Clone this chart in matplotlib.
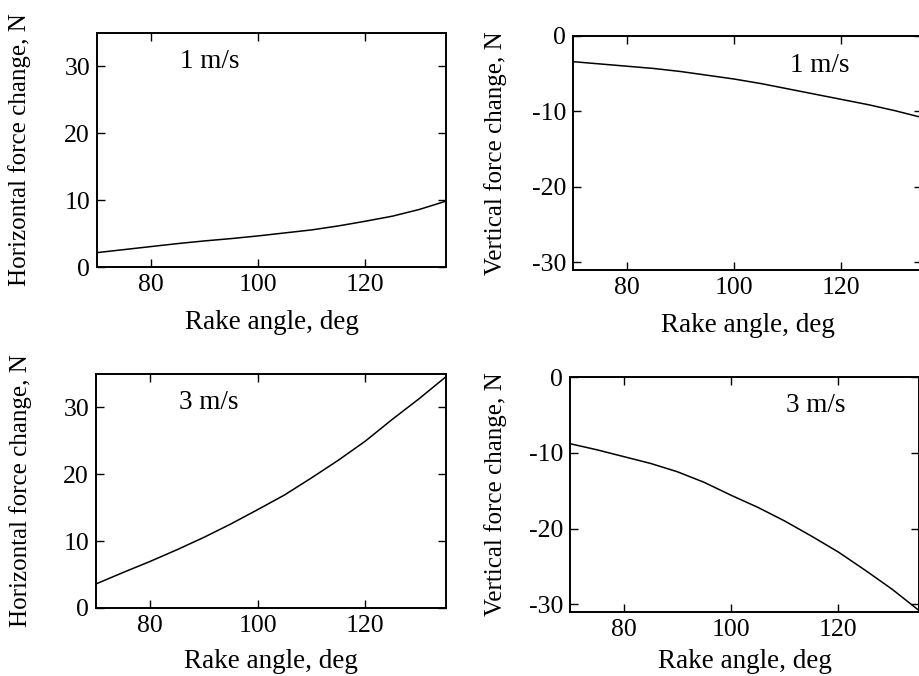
import matplotlib
matplotlib.use("Agg")
import matplotlib.pyplot as plt

plt.rcParams["font.family"] = ["Liberation Serif", "DejaVu Serif"]

# rake angle samples (deg)
rake = [70, 75, 80, 85, 90, 95, 100, 105, 110, 115, 120, 125, 130, 135]

# force change curves (N)
horiz_1ms = [2.15, 2.6, 3.05, 3.5, 3.9, 4.25, 4.65, 5.1, 5.55, 6.15, 6.85, 7.6, 8.6, 9.85]
vert_1ms = [-3.4, -3.7, -4.0, -4.3, -4.7, -5.2, -5.7, -6.3, -7.0, -7.7, -8.4, -9.1, -9.9, -10.8]
horiz_3ms = [3.6, 5.3, 6.95, 8.7, 10.55, 12.55, 14.7, 16.9, 19.45, 22.1, 24.95, 28.2, 31.3, 34.6]
vert_3ms = [-8.8, -9.6, -10.5, -11.4, -12.5, -13.9, -15.6, -17.2, -19.0, -21.0, -23.1, -25.5, -28.0, -30.8]

x_ticks = [80, 100, 120]
h_ticks = [0, 10, 20, 30]
v_ticks = [0, -10, -20, -30]

TICK_FS = 18.5
LAB_FS = 19.5
YLAB_FS = 18

fig = plt.figure(figsize=(9.19, 6.76), dpi=100)

# (left, bottom, width, height) in figure fraction, pixel-matched to the scan
panels = [
    dict(rect=[97 / 919, 1 - 267 / 676, 349 / 919, 234 / 676], y=horiz_1ms,
         ylim=(0, 35), yt=h_ticks, ylab="Horizontal force change, N",
         txt="1 m/s", tx=91, ty=30.7, lx=-0.189, xpad=10),
    dict(rect=[573 / 919, 1 - 270 / 676, 349 / 919, 234 / 676], y=vert_1ms,
         ylim=(-31, 0), yt=v_ticks, ylab="Vertical force change, N",
         txt="1 m/s", tx=116, ty=-3.9, lx=-0.189, xpad=10),
    dict(rect=[96 / 919, 1 - 608 / 676, 350 / 919, 234 / 676], y=horiz_3ms,
         ylim=(0, 35), yt=h_ticks, ylab="Horizontal force change, N",
         txt="3 m/s", tx=90.9, ty=30.7, lx=-0.183, xpad=9),
    dict(rect=[570 / 919, 1 - 612 / 676, 349 / 919, 235 / 676], y=vert_3ms,
         ylim=(-31, 0), yt=v_ticks, ylab="Vertical force change, N",
         txt="3 m/s", tx=115.8, ty=-3.7, lx=-0.18, xpad=6),
]

for p in panels:
    ax = fig.add_axes(p["rect"])
    ax.plot(rake, p["y"], color="black", lw=1.1)
    ax.set_xlim(70, 135)
    ax.set_ylim(*p["ylim"])
    ax.set_xticks(x_ticks)
    ax.set_yticks(p["yt"])
    ax.set_yticklabels([str(v) for v in p["yt"]])
    ax.tick_params(direction="in", length=6, width=1.0, labelsize=TICK_FS,
                   top=True, right=True, pad=5)
    for s in ax.spines.values():
        s.set_linewidth(1.4)
    ax.set_xlabel("Rake angle, deg", fontsize=LAB_FS, labelpad=p["xpad"])
    ax.set_ylabel(p["ylab"], fontsize=YLAB_FS)
    ax.yaxis.set_label_coords(p["lx"], 0.5)
    ax.text(p["tx"], p["ty"], p["txt"], fontsize=LAB_FS, ha="center", va="center")

fig.savefig("out.png", dpi=100)
